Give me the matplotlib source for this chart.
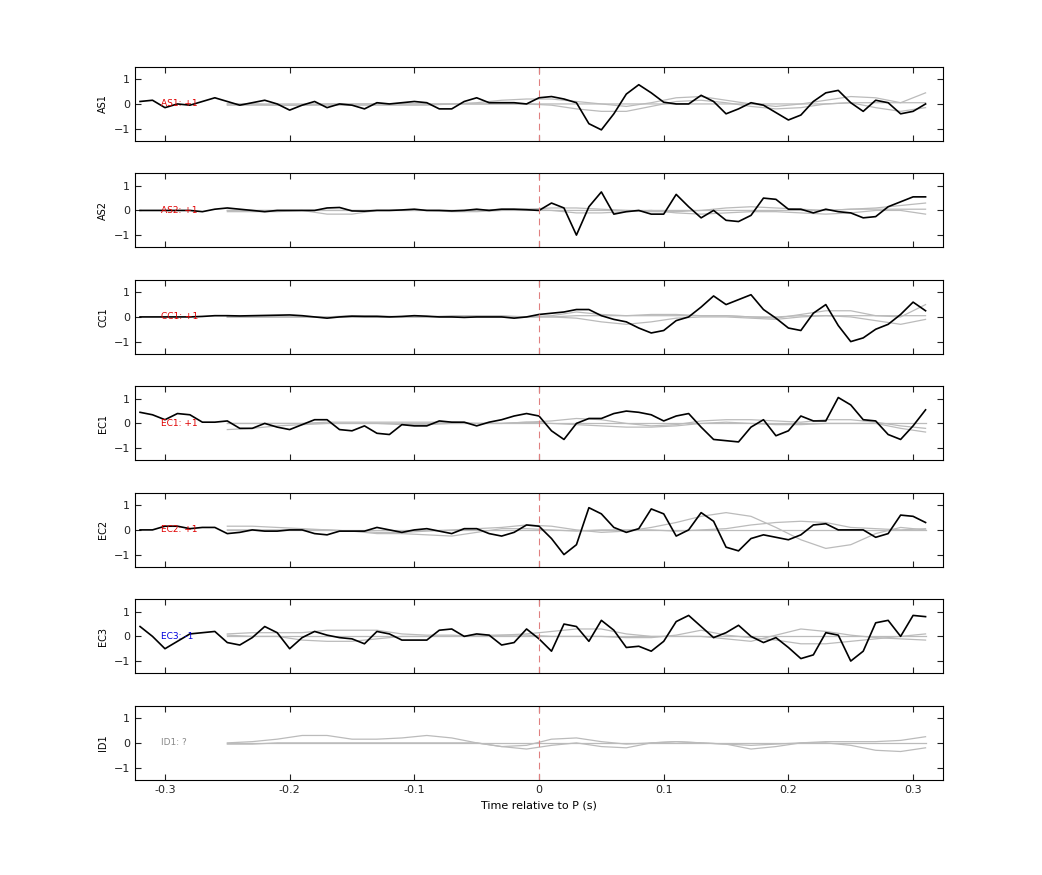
import numpy as np
import matplotlib.pyplot as plt

# time axes (s)
t_black = np.round(np.arange(-0.32, 0.315, 0.01), 2)
t_gray = np.round(np.arange(-0.25, 0.315, 0.02), 2)

stations = ["AS1", "AS2", "CC1", "EC1", "EC2", "EC3", "ID1"]
polarity = ["+1", "+1", "+1", "+1", "+1", "-1", "?"]

as1 = [0.1, 0.15, -0.15, 0.0, -0.05, 0.1, 0.25, 0.1, -0.05, 0.05, 0.15, 0.0, -0.25, -0.05, 0.1, -0.15,
       0.0, -0.05, -0.2, 0.05, 0.0, 0.05, 0.1, 0.05, -0.2, -0.2, 0.1, 0.25, 0.05, 0.05, 0.05, 0.0,
       0.25, 0.3, 0.2, 0.05, -0.8, -1.05, -0.4, 0.4, 0.78, 0.45, 0.07, 0.0, 0.0, 0.35, 0.1, -0.4,
       -0.2, 0.05, -0.05, -0.35, -0.65, -0.45, 0.1, 0.45, 0.55, 0.05, -0.3, 0.15, 0.05, -0.4, -0.3, 0.0]
as2 = [0.0, 0.0, 0.0, 0.0, 0.0, -0.05, 0.05, 0.1, 0.05, 0.0, -0.05, 0.0, 0.0, 0.0, 0.0, 0.1,
       0.12, -0.02, -0.03, 0.0, 0.0, 0.02, 0.05, 0.0, 0.0, -0.02, 0.0, 0.05, 0.0, 0.05, 0.05, 0.03,
       0.0, 0.3, 0.1, -1.0, 0.15, 0.75, -0.15, -0.05, 0.0, -0.15, -0.15, 0.65, 0.15, -0.3, 0.0, -0.4,
       -0.45, -0.2, 0.5, 0.45, 0.05, 0.05, -0.1, 0.05, -0.05, -0.1, -0.3, -0.25, 0.15, 0.35, 0.55, 0.55]
cc1 = [0.0, 0.0, 0.0, 0.0, 0.0, 0.02, 0.05, 0.05, 0.04, 0.05, 0.06, 0.07, 0.08, 0.05, 0.0, -0.05,
       0.0, 0.03, 0.02, 0.02, 0.0, 0.02, 0.05, 0.03, 0.0, 0.0, -0.02, 0.0, 0.0, 0.0, -0.05, 0.0,
       0.1, 0.15, 0.2, 0.3, 0.3, 0.05, -0.1, -0.2, -0.45, -0.65, -0.55, -0.15, 0.0, 0.4, 0.85, 0.5,
       0.7, 0.9, 0.3, -0.05, -0.45, -0.55, 0.15, 0.5, -0.35, -1.0, -0.85, -0.5, -0.3, 0.1, 0.6, 0.25]
ec1 = [0.45, 0.35, 0.15, 0.4, 0.35, 0.05, 0.05, 0.1, -0.2, -0.2, 0.0, -0.15, -0.25, -0.05, 0.15, 0.15,
       -0.25, -0.3, -0.1, -0.4, -0.45, -0.05, -0.1, -0.1, 0.1, 0.05, 0.05, -0.1, 0.05, 0.15, 0.3, 0.4,
       0.3, -0.3, -0.65, 0.0, 0.2, 0.2, 0.4, 0.5, 0.45, 0.35, 0.1, 0.3, 0.4, -0.15, -0.65, -0.7,
       -0.75, -0.15, 0.15, -0.5, -0.3, 0.3, 0.1, 0.1, 1.05, 0.75, 0.15, 0.1, -0.45, -0.65, -0.1, 0.55]
ec2 = [0.0, 0.0, 0.15, 0.15, 0.05, 0.1, 0.1, -0.15, -0.1, 0.0, -0.05, -0.05, 0.0, 0.0, -0.15, -0.2,
       -0.05, -0.05, -0.05, 0.1, 0.0, -0.1, 0.0, 0.05, -0.05, -0.15, 0.05, 0.05, -0.15, -0.25, -0.1, 0.2,
       0.15, -0.35, -1.0, -0.6, 0.9, 0.65, 0.1, -0.1, 0.05, 0.85, 0.65, -0.25, 0.0, 0.7, 0.35, -0.7,
       -0.85, -0.35, -0.2, -0.3, -0.4, -0.2, 0.2, 0.25, 0.0, 0.0, 0.0, -0.3, -0.15, 0.6, 0.55, 0.3]
ec3 = [0.4, 0.0, -0.5, -0.2, 0.1, 0.15, 0.2, -0.25, -0.35, -0.05, 0.4, 0.15, -0.5, -0.05, 0.2, 0.05,
       -0.05, -0.1, -0.3, 0.2, 0.1, -0.15, -0.15, -0.15, 0.25, 0.3, 0.0, 0.1, 0.05, -0.35, -0.25, 0.3,
       -0.1, -0.6, 0.5, 0.4, -0.2, 0.65, 0.25, -0.45, -0.4, -0.6, -0.2, 0.6, 0.85, 0.4, -0.05, 0.15,
       0.45, 0.0, -0.25, -0.05, -0.45, -0.9, -0.75, 0.15, 0.05, -1.0, -0.6, 0.55, 0.65, 0.0, 0.85, 0.8]
black = [as1, as2, cc1, ec1, ec2, ec3, None]

# synthetic-like gray traces, sampled every 0.02 s from -0.25
gray = [
    [[-0.05, -0.05, -0.05, -0.05, -0.05, -0.05, -0.05, -0.05, -0.05, 0.0, 0.05, 0.15, 0.2, 0.2, 0.1, 0.0, -0.1, 0.05, 0.25, 0.3, 0.15, 0.0, -0.1, 0.0, 0.15, 0.3, 0.25, 0.05, 0.45],
     [0.0, 0.0, -0.05, -0.05, 0.0, 0.0, 0.0, 0.0, 0.0, 0.0, 0.0, 0.0, 0.0, -0.05, -0.2, -0.3, -0.3, -0.1, 0.1, 0.15, 0.05, -0.1, -0.2, -0.15, 0.0, 0.05, -0.15, -0.3, -0.15],
     [0.0, 0.0, 0.0, 0.0, 0.0, 0.0, 0.0, 0.0, 0.0, 0.0, 0.0, 0.0, 0.0, 0.0, 0.0, 0.0, 0.0, 0.0, 0.0, 0.0, 0.0, 0.0, 0.0, 0.0, 0.0, 0.05, 0.05, 0.05, 0.05]],
    [[-0.05, -0.05, -0.05, 0.0, 0.0, 0.0, 0.0, 0.0, 0.0, 0.0, 0.0, 0.05, 0.05, 0.1, 0.1, 0.05, 0.0, -0.05, -0.05, 0.0, 0.1, 0.15, 0.1, 0.05, 0.0, 0.05, 0.1, 0.2, 0.3],
     [0.0, 0.0, 0.0, 0.0, -0.15, -0.15, 0.0, 0.0, 0.0, -0.05, -0.05, 0.0, 0.05, 0.0, -0.1, -0.1, -0.05, 0.0, -0.1, -0.15, -0.1, -0.05, -0.05, -0.1, -0.15, -0.1, 0.0, 0.0, -0.15],
     [0.0, 0.0, 0.0, 0.0, 0.0, 0.0, 0.0, 0.0, 0.0, 0.0, 0.0, 0.0, 0.0, 0.0, 0.0, 0.0, 0.0, 0.0, 0.0, 0.0, 0.0, 0.0, 0.0, 0.0, 0.0, 0.05, 0.05, 0.05, 0.05]],
    [[0.0, 0.0, 0.0, 0.0, 0.0, 0.05, 0.05, 0.0, 0.0, 0.05, 0.05, 0.05, 0.0, 0.05, 0.2, 0.1, 0.05, 0.1, 0.1, 0.05, 0.05, 0.0, -0.05, 0.1, 0.25, 0.25, 0.05, 0.0, 0.5],
     [0.0, 0.0, 0.0, 0.0, 0.0, 0.0, 0.0, 0.0, 0.0, 0.0, 0.0, 0.0, 0.0, 0.0, -0.05, -0.2, -0.3, -0.2, -0.05, 0.0, 0.0, -0.05, -0.1, 0.0, 0.05, 0.0, -0.15, -0.3, -0.1],
     [0.0, 0.0, 0.0, 0.0, 0.0, 0.0, 0.0, 0.0, 0.0, 0.0, 0.0, 0.0, 0.0, 0.0, 0.05, 0.05, 0.05, 0.05, 0.05, 0.05, 0.05, 0.0, 0.0, 0.05, 0.05, 0.05, 0.05, 0.05, 0.05]],
    [[0.0, 0.0, 0.0, 0.0, 0.05, 0.05, 0.05, 0.05, 0.05, 0.05, 0.0, 0.0, 0.05, 0.1, 0.2, 0.15, 0.0, -0.1, -0.05, 0.1, 0.15, 0.15, 0.1, 0.05, 0.15, 0.15, 0.05, -0.1, -0.2],
     [-0.25, -0.2, -0.1, -0.05, 0.0, 0.0, 0.0, -0.05, -0.05, 0.0, 0.0, 0.0, 0.05, 0.0, -0.05, -0.1, -0.15, -0.15, -0.1, 0.0, 0.05, 0.0, -0.05, -0.05, 0.0, 0.0, 0.0, -0.2, -0.35],
     [0.0, 0.0, 0.0, 0.0, 0.0, 0.0, 0.0, 0.0, 0.0, 0.0, 0.0, 0.0, 0.0, 0.0, 0.0, 0.0, 0.0, 0.0, 0.0, 0.0, 0.0, 0.0, 0.0, 0.0, 0.0, 0.0, 0.0, 0.0, 0.0]],
    [[0.15, 0.15, 0.1, 0.05, 0.0, -0.05, -0.1, -0.1, -0.05, 0.0, 0.05, 0.1, 0.2, 0.15, 0.0, -0.1, -0.05, 0.1, 0.3, 0.55, 0.7, 0.55, 0.1, -0.4, -0.75, -0.6, -0.15, 0.1, 0.0],
     [0.0, 0.0, 0.0, 0.0, 0.0, -0.05, -0.15, -0.15, -0.2, -0.25, -0.1, 0.05, 0.05, 0.0, -0.05, 0.0, 0.0, 0.0, -0.05, 0.0, 0.05, 0.2, 0.3, 0.35, 0.3, 0.1, 0.05, 0.0, 0.05],
     [0.0, 0.0, 0.0, 0.0, 0.0, 0.0, 0.0, 0.0, 0.0, 0.0, 0.0, 0.0, 0.0, 0.0, 0.0, 0.0, 0.0, 0.0, 0.0, 0.0, 0.0, 0.0, 0.0, 0.0, 0.0, 0.0, 0.0, 0.0, 0.0]],
    [[0.1, 0.15, 0.15, 0.15, 0.25, 0.25, 0.25, 0.1, 0.05, 0.05, 0.0, 0.05, 0.1, 0.2, 0.3, 0.3, 0.1, 0.0, 0.0, 0.0, -0.1, -0.2, 0.05, 0.3, 0.2, 0.05, -0.05, -0.1, -0.15],
     [0.05, 0.0, 0.0, -0.15, -0.2, -0.2, -0.1, 0.0, 0.0, 0.0, 0.05, 0.05, 0.05, 0.0, 0.0, 0.0, -0.05, -0.05, 0.05, 0.25, 0.05, -0.05, -0.15, -0.3, -0.3, -0.2, -0.1, 0.0, 0.1],
     [0.0, 0.0, 0.0, 0.0, 0.0, 0.0, 0.0, 0.0, 0.0, 0.0, 0.0, 0.0, 0.0, 0.0, 0.0, 0.0, 0.0, 0.0, 0.0, 0.0, 0.0, 0.0, 0.0, 0.0, 0.0, 0.0, 0.0, 0.0, 0.0]],
    [[0.0, 0.05, 0.15, 0.3, 0.3, 0.15, 0.15, 0.2, 0.3, 0.2, 0.0, -0.15, -0.1, 0.15, 0.2, 0.05, -0.05, 0.0, 0.05, 0.0, -0.05, -0.1, -0.05, 0.0, 0.05, 0.05, 0.05, 0.1, 0.25],
     [-0.05, -0.05, 0.0, 0.0, 0.0, 0.0, 0.0, 0.0, 0.0, 0.0, 0.0, -0.15, -0.25, -0.1, 0.0, -0.15, -0.2, 0.0, 0.05, 0.0, -0.05, -0.25, -0.15, 0.0, 0.0, -0.1, -0.3, -0.35, -0.2],
     [0.0, 0.0, 0.0, 0.0, 0.0, 0.0, 0.0, 0.0, 0.0, 0.0, 0.0, 0.0, 0.0, 0.0, 0.0, 0.0, 0.0, 0.0, 0.0, 0.0, 0.0, 0.0, 0.0, 0.0, 0.0, 0.0, 0.0, 0.0, 0.0]],
]

pol_color = {"+1": "#e00000", "-1": "#0000dd", "?": "#888888"}

fig = plt.figure(figsize=(10.42, 8.75), dpi=100)
left, width, height = 0.1296, 0.7754, 0.0846
for i, sta in enumerate(stations):
    bottom = 0.8389 - i * 0.1217
    ax = fig.add_axes([left, bottom, width, height])
    for g in gray[i]:
        ax.plot(t_gray, g, color="#bbbbbb", lw=0.9)
    if black[i] is not None:
        ax.plot(t_black, black[i], color="black", lw=1.2)
    ax.axvline(0, color="#e08080", lw=0.8, ls=(0, (6, 4)))
    ax.text(-0.303, 0, f"{sta}: {polarity[i]}", color=pol_color[polarity[i]],
            fontsize=6.5, va="center", ha="left")
    ax.set_xlim(-0.324, 0.324)
    ax.set_ylim(-1.5, 1.5)
    ax.set_yticks([-1, 0, 1])
    ax.set_xticks([-0.3, -0.2, -0.1, 0, 0.1, 0.2, 0.3])
    ax.tick_params(direction="in", top=True, right=True, labelsize=8, length=4, colors="#222222")
    ax.set_ylabel(sta, fontsize=7)
    if i < len(stations) - 1:
        ax.set_xticklabels([])
    else:
        ax.set_xticklabels(["-0.3", "-0.2", "-0.1", "0", "0.1", "0.2", "0.3"])
        ax.set_xlabel("Time relative to P (s)", fontsize=8)

fig.savefig("out.png", dpi=100)
